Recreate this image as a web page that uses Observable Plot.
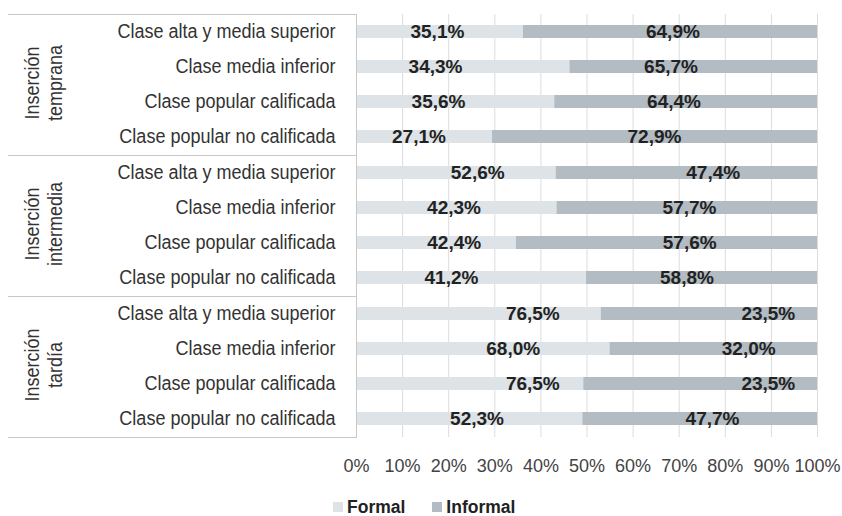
<!DOCTYPE html>
<html>
<head>
<meta charset="utf-8">
<script src="https://cdn.jsdelivr.net/npm/d3@7"></script>
<script src="https://cdn.jsdelivr.net/npm/@observablehq/plot@0.6"></script>
<style>
  body { margin: 0; background: #fff; }
  #chart { width: 842px; }
  .legend { display: flex; align-items: center; height: 22px; margin-left: 333px; font-family: "Liberation Sans", Arial, sans-serif; font-size: 17.5px; font-weight: bold; color: #222; }
  .legend span.sw { display: inline-block; width: 10px; height: 10px; margin-right: 4px; }
  .legend span.item { display: inline-flex; align-items: center; margin-right: 27px; }
</style>
</head>
<body>
<div id="chart"></div>
<script>
// ---- data ----
const groups = ["Inserción temprana", "Inserción intermedia", "Inserción tardía"];
const groupLabels = ["Inserción\ntemprana", "Inserción\nintermedia", "Inserción\ntardía"];
const classes = ["Clase alta y media superior", "Clase media inferior", "Clase popular calificada", "Clase popular no calificada"];
const series = ["Formal", "Informal"];
// percentages printed on the bars
const formalPct   = [35.1, 34.3, 35.6, 27.1, 52.6, 42.3, 42.4, 41.2, 76.5, 68.0, 76.5, 52.3];
const informalPct = [64.9, 65.7, 64.4, 72.9, 47.4, 57.7, 57.6, 58.8, 23.5, 32.0, 23.5, 47.7];
// segment lengths as drawn in the picture
const formalBar   = [36.2, 46.3, 43.0, 29.5, 43.3, 43.5, 34.7, 49.9, 53.1, 55.0, 49.3, 49.1];
const informalBar = [63.8, 53.7, 57.0, 70.5, 56.7, 56.5, 65.3, 50.1, 46.9, 45.0, 50.7, 50.9];
const xTicks = [0, 10, 20, 30, 40, 50, 60, 70, 80, 90, 100];
const xTickLabels = ["0%", "10%", "20%", "30%", "40%", "50%", "60%", "70%", "80%", "90%", "100%"];
const colors = ["#dde3e6", "#b3bcc3"];

// ---- tables ----
const rows = [];
const labelRows = [];
for (let i = 0; i < 12; i++) {
  const g = groups[Math.floor(i / 4)], c = classes[i % 4];
  rows.push({group: g, cls: c, series: "Formal", value: formalBar[i]});
  rows.push({group: g, cls: c, series: "Informal", value: informalBar[i]});
  labelRows.push({group: g, cls: c, series: "Formal", value: formalPct[i]});
  labelRows.push({group: g, cls: c, series: "Informal", value: informalPct[i]});
}
const groupRows = groups.map((g, i) => ({group: g, label: groupLabels[i]}));
const fmt = v => v.toFixed(1).replace(".", ",") + "%";
const FONT = '"Liberation Sans", Arial, sans-serif';

const W = 842, H = 496, ML = 356, MR = 25, MT = 13, MB = H - 437;
const plotW = W - ML - MR;

const chart = Plot.plot({
  width: W, height: H,
  marginLeft: ML, marginRight: MR, marginTop: MT, marginBottom: MB,
  style: {fontFamily: FONT, background: "#fff", color: "#222"},
  x: {domain: [0, 100], axis: null},
  y: {domain: classes, paddingInner: 0.62, paddingOuter: 0.31, axis: null},
  fy: {domain: groups, padding: 0, axis: null},
  color: {domain: series, range: colors},
  marks: [
    Plot.gridX(xTicks, {stroke: "#dcdcdc", strokeOpacity: 1}),
    Plot.barX(rows, Plot.stackX({x: "value", y: "cls", fy: "group", fill: "series", order: series})),
    Plot.text(labelRows, Plot.stackX({x: "value", y: "cls", fy: "group", z: "series", order: series, text: d => d.series === "Formal" ? fmt(d.value) : "", fontSize: 19, fontWeight: "bold", fill: "#222"})),
    Plot.text(labelRows, Plot.stackX({x: "value", y: "cls", fy: "group", z: "series", order: series, text: d => d.series === "Informal" ? fmt(d.value) : "", dx: 5, fontSize: 19, fontWeight: "bold", fill: "#222"})),
    Plot.axisY({domain: classes, tickSize: 0, tickPadding: 21, fontSize: 20, fill: "#333", label: null, className: "narrow"}),
    Plot.text(groupRows, {fy: "group", text: "label", frameAnchor: "left", textAnchor: "middle", rotate: -90, dx: 43 - ML, dy: -2, fontSize: 20, lineHeight: 1.15, fill: "#333", className: "narrow"}),
    Plot.frame({anchor: "top", stroke: "#c8c8c8", insetLeft: 8 - ML, insetRight: plotW}),
    Plot.frame({anchor: "bottom", stroke: "#c8c8c8", insetLeft: 8 - ML, insetRight: plotW}),
    Plot.frame({anchor: "left", stroke: "#c8c8c8"}),
    Plot.axisX({ticks: xTicks, tickFormat: d => xTickLabels[xTicks.indexOf(d)], tickSize: 0, tickPadding: 21.5, fontSize: 18, fill: "#444", label: null})
  ]
});
document.getElementById("chart").appendChild(chart);

// condense the taller label font horizontally (narrow typeface look)
chart.querySelectorAll("g.narrow text").forEach(t => {
  const spans = t.querySelectorAll("tspan");
  const els = spans.length ? Array.from(spans) : [t];
  els.forEach(el => {
    const len = el.getComputedTextLength();
    if (len > 0) {
      el.setAttribute("textLength", (len * 0.9).toFixed(2));
      el.setAttribute("lengthAdjust", "spacingAndGlyphs");
    }
  });
});

const legend = document.createElement("div");
legend.className = "legend";
series.forEach((s, i) => {
  const item = document.createElement("span");
  item.className = "item";
  const sw = document.createElement("span");
  sw.className = "sw";
  sw.style.background = colors[i];
  item.appendChild(sw);
  item.appendChild(document.createTextNode(s));
  legend.appendChild(item);
});
document.getElementById("chart").appendChild(legend);
</script>
</body>
</html>
